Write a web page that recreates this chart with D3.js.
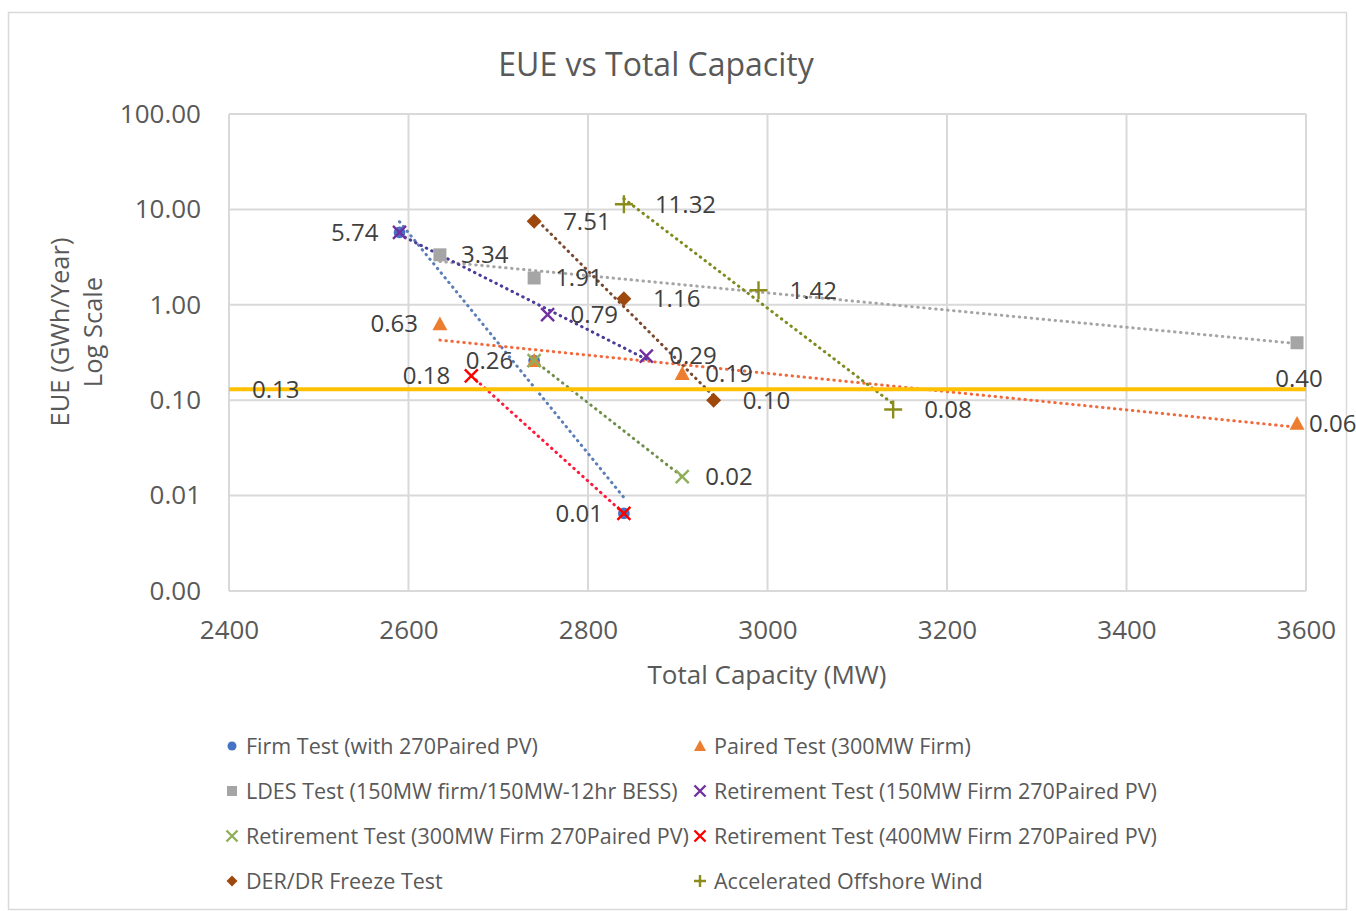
<!DOCTYPE html>
<html>
<head>
<meta charset="utf-8">
<script src="https://cdn.jsdelivr.net/npm/d3@7"></script>
<style>
  html, body { margin: 0; padding: 0; background: #ffffff; }
  svg { display: block; font-family: "Open Sans", "DejaVu Sans", sans-serif; }
</style>
</head>
<body>
<svg id="chart" width="1356" height="911"></svg>
<script>
// ---------------- DATA ----------------
const chartTitle = "EUE vs Total Capacity";
const xAxisTitle = "Total Capacity (MW)";
const yAxisTitleLines = ["EUE (GWh/Year)", "Log Scale"];

const xTickValues = [2400, 2600, 2800, 3000, 3200, 3400, 3600];
const yTickValues = [0.001, 0.01, 0.1, 1, 10, 100];

const seriesNames = [
  "Firm Test (with 270Paired PV)",
  "Paired Test (300MW Firm)",
  "LDES Test (150MW firm/150MW-12hr BESS)",
  "Retirement Test (150MW Firm 270Paired PV)",
  "Retirement Test (300MW Firm 270Paired PV)",
  "Retirement Test (400MW Firm 270Paired PV)",
  "DER/DR Freeze Test",
  "Accelerated Offshore Wind"
];

const firmX   = [2590, 2740, 2840];
const firmY   = [5.74, 0.26, 0.0065];
const pairedX = [2635, 2740, 2905, 3590];
const pairedY = [0.63, 0.26, 0.19, 0.057];
const ldesX   = [2635, 2740, 3590];
const ldesY   = [3.34, 1.91, 0.40];
const ret150X = [2590, 2755, 2865];
const ret150Y = [5.74, 0.79, 0.29];
const ret300X = [2740, 2905];
const ret300Y = [0.26, 0.0158];
const ret400X = [2670, 2840];
const ret400Y = [0.18, 0.0065];
const derX    = [2740, 2840, 2940];
const derY    = [7.51, 1.16, 0.10];
const windX   = [2840, 2990, 3140];
const windY   = [11.32, 1.42, 0.08];
const targetX = [2400, 3600];
const targetY = [0.13, 0.13];

// ---------------- STYLE ----------------
const seriesStyle = [
  {key: "firm",   color: "#4472C4", line: "#5B7DB8", marker: "circle"},
  {key: "paired", color: "#ED7D31", line: "#F26A3C", marker: "triangle"},
  {key: "ldes",   color: "#A5A5A5", line: "#A5A5A5", marker: "square"},
  {key: "ret150", color: "#7030A0", line: "#4B3C9A", marker: "x"},
  {key: "ret300", color: "#8FAF5A", line: "#6E8F4A", marker: "x"},
  {key: "ret400", color: "#FF0000", line: "#FF1A3C", marker: "x"},
  {key: "der",    color: "#9E480E", line: "#7A4A2E", marker: "diamond"},
  {key: "wind",   color: "#8C8C1C", line: "#7E8A1E", marker: "plus"}
];
const labelPlacement = {
  firm:   ["left", "left", "left"],
  paired: ["left", "none", "right", "right"],
  ldes:   ["right", "right", "below"],
  ret150: ["none", "right", "right"],
  ret300: ["none", "right"],
  ret400: ["left", "none"],
  der:    ["right", "right", "right"],
  wind:   ["right", "right", "right"]
};
const labelGap = {
  firm: [21, 21, 21], paired: [22, 22, 23, 12], ldes: [21, 21, 0],
  ret150: [23, 23, 23], ret300: [23, 23], ret400: [21, 21],
  der: [29, 29, 29], wind: [31, 31, 31]
};

const seriesXs = [firmX, pairedX, ldesX, ret150X, ret300X, ret400X, derX, windX];
const seriesYs = [firmY, pairedY, ldesY, ret150Y, ret300Y, ret400Y, derY, windY];

// ---------------- CHART ----------------
const svg = d3.select("#chart");
const plot = {left: 229, right: 1306, top: 114, bottom: 591};

const x = d3.scaleLinear().domain([2400, 3600]).range([plot.left, plot.right]);
const y = d3.scaleLog().domain([0.001, 100]).range([plot.bottom, plot.top]);

// outer frame
svg.append("rect")
  .attr("x", 8.5).attr("y", 12.5).attr("width", 1338).attr("height", 897)
  .attr("fill", "#ffffff").attr("stroke", "#d9d9d9").attr("stroke-width", 1.5);

// title
svg.append("text")
  .attr("x", 656).attr("y", 76)
  .attr("text-anchor", "middle")
  .attr("font-size", 32).attr("fill", "#595959")
  .text(chartTitle);

// gridlines
const grid = svg.append("g");
grid.selectAll("line.v").data(xTickValues).join("line")
  .attr("x1", d => x(d)).attr("x2", d => x(d))
  .attr("y1", plot.top).attr("y2", plot.bottom)
  .attr("stroke", "#d9d9d9").attr("stroke-width", 2);
grid.selectAll("line.h").data(yTickValues).join("line")
  .attr("x1", plot.left).attr("x2", plot.right)
  .attr("y1", d => y(d)).attr("y2", d => y(d))
  .attr("stroke", "#d9d9d9").attr("stroke-width", 2);

// axes (labels only)
const fmt2 = d3.format(".2f");
const xAxis = svg.append("g")
  .attr("transform", `translate(0,${plot.bottom})`)
  .call(d3.axisBottom(x).tickValues(xTickValues).tickFormat(d3.format("d")).tickSize(0).tickPadding(30));
const yAxis = svg.append("g")
  .attr("transform", `translate(${plot.left},0)`)
  .call(d3.axisLeft(y).tickValues(yTickValues).tickFormat(fmt2).tickSize(0).tickPadding(28));
[xAxis, yAxis].forEach(a => {
  a.select(".domain").remove();
  a.selectAll("text").attr("font-size", 26).attr("fill", "#595959")
    .attr("font-family", "'Open Sans', sans-serif");
});

// axis titles
svg.append("text")
  .attr("x", 767).attr("y", 684)
  .attr("text-anchor", "middle").attr("font-size", 26).attr("fill", "#595959")
  .text(xAxisTitle);
const yt = svg.append("text")
  .attr("transform", "translate(60,332) rotate(-90)")
  .attr("text-anchor", "middle").attr("font-size", 25.5).attr("fill", "#595959");
yAxisTitleLines.forEach((t, i) => {
  yt.append("tspan").attr("x", 0).attr("y", i * 33 + 9).text(t);
});

// exponential trendlines (least squares on log10 values)
function expFit(xs, ys) {
  const ly = ys.map(v => Math.log10(v));
  const mx = d3.mean(xs), my = d3.mean(ly);
  let sxy = 0, sxx = 0;
  xs.forEach((xv, i) => { sxy += (xv - mx) * (ly[i] - my); sxx += (xv - mx) * (xv - mx); });
  const b = sxy / sxx;
  const a = my - b * mx;
  return xv => Math.pow(10, a + b * xv);
}
const line = d3.line().x(d => x(d[0])).y(d => y(d[1]));
const trend = svg.append("g");
seriesStyle.forEach((s, i) => {
  const xs = seriesXs[i], ys = seriesYs[i];
  const f = expFit(xs, ys);
  const x0 = d3.min(xs), x1 = d3.max(xs);
  trend.append("path")
    .datum([[x0, f(x0)], [x1, f(x1)]])
    .attr("d", line)
    .attr("fill", "none")
    .attr("stroke", s.line)
    .attr("stroke-width", 3)
    .attr("stroke-linecap", "round")
    .attr("stroke-dasharray", "0.5 5.5");
});

// target line
svg.append("path")
  .datum(targetX.map((v, i) => [v, targetY[i]]))
  .attr("d", line)
  .attr("fill", "none").attr("stroke", "#FFC000").attr("stroke-width", 4);

// markers
function drawMarker(g, type, color, size) {
  const h = size / 2;
  if (type === "circle") {
    g.append("circle").attr("r", size * 0.45).attr("fill", color);
  } else if (type === "triangle") {
    g.append("path").attr("d", `M0,${-h}L${h},${h * 0.85}L${-h},${h * 0.85}Z`).attr("fill", color);
  } else if (type === "square") {
    g.append("rect").attr("x", -h).attr("y", -h).attr("width", size).attr("height", size).attr("fill", color);
  } else if (type === "diamond") {
    g.append("path").attr("d", `M0,${-h}L${h},0L0,${h}L${-h},0Z`).attr("fill", color);
  } else if (type === "x") {
    g.append("path").attr("d", `M${-h},${-h}L${h},${h}M${-h},${h}L${h},${-h}`)
      .attr("stroke", color).attr("stroke-width", 2.4).attr("fill", "none");
  } else if (type === "plus") {
    g.append("path").attr("d", `M${-h},0L${h},0M0,${-h}L0,${h}`)
      .attr("stroke", color).attr("stroke-width", 2.4).attr("fill", "none");
  }
}
const markerSize = {circle: 13, triangle: 15, square: 13, diamond: 15, x: 13, plus: 18};
const marks = svg.append("g");
seriesStyle.forEach((s, i) => {
  seriesXs[i].forEach((xv, j) => {
    const g = marks.append("g").attr("transform", `translate(${x(xv)},${y(seriesYs[i][j])})`);
    drawMarker(g, s.marker, s.color, markerSize[s.marker]);
  });
});

// data labels
const labels = svg.append("g").attr("font-size", 24).attr("fill", "#404040");
function addLabel(xv, yv, pos, gap) {
  if (pos === "none") return;
  const px = x(xv), py = y(yv);
  const t = labels.append("text").text(fmt2(yv));
  if (pos === "left") t.attr("x", px - gap).attr("y", py).attr("dy", "0.35em").attr("text-anchor", "end");
  else if (pos === "right") t.attr("x", px + gap).attr("y", py).attr("dy", "0.35em").attr("text-anchor", "start");
  else if (pos === "below") t.attr("x", px + 2).attr("y", py + 36).attr("dy", "0.35em").attr("text-anchor", "middle");
}
seriesStyle.forEach((s, i) => {
  seriesXs[i].forEach((xv, j) => addLabel(xv, seriesYs[i][j], labelPlacement[s.key][j], labelGap[s.key][j]));
});
addLabel(targetX[0], targetY[0], "right", 23);

// legend
const legendCols = [232, 700];
const legendRows = [746, 791, 836, 881];
const legend = svg.append("g");
seriesNames.forEach((name, i) => {
  const cx = legendCols[i % 2], cy = legendRows[Math.floor(i / 2)];
  const g = legend.append("g").attr("transform", `translate(${cx},${cy})`);
  const s = seriesStyle[i];
  const ls = {circle: 10, triangle: 12, square: 10, diamond: 11, x: 11, plus: 12}[s.marker];
  drawMarker(g, s.marker, s.color, ls);
  legend.append("text")
    .attr("x", cx + 14).attr("y", cy).attr("dy", "0.35em")
    .attr("font-size", 21.5).attr("fill", "#595959")
    .text(name);
});
</script>
</body>
</html>
